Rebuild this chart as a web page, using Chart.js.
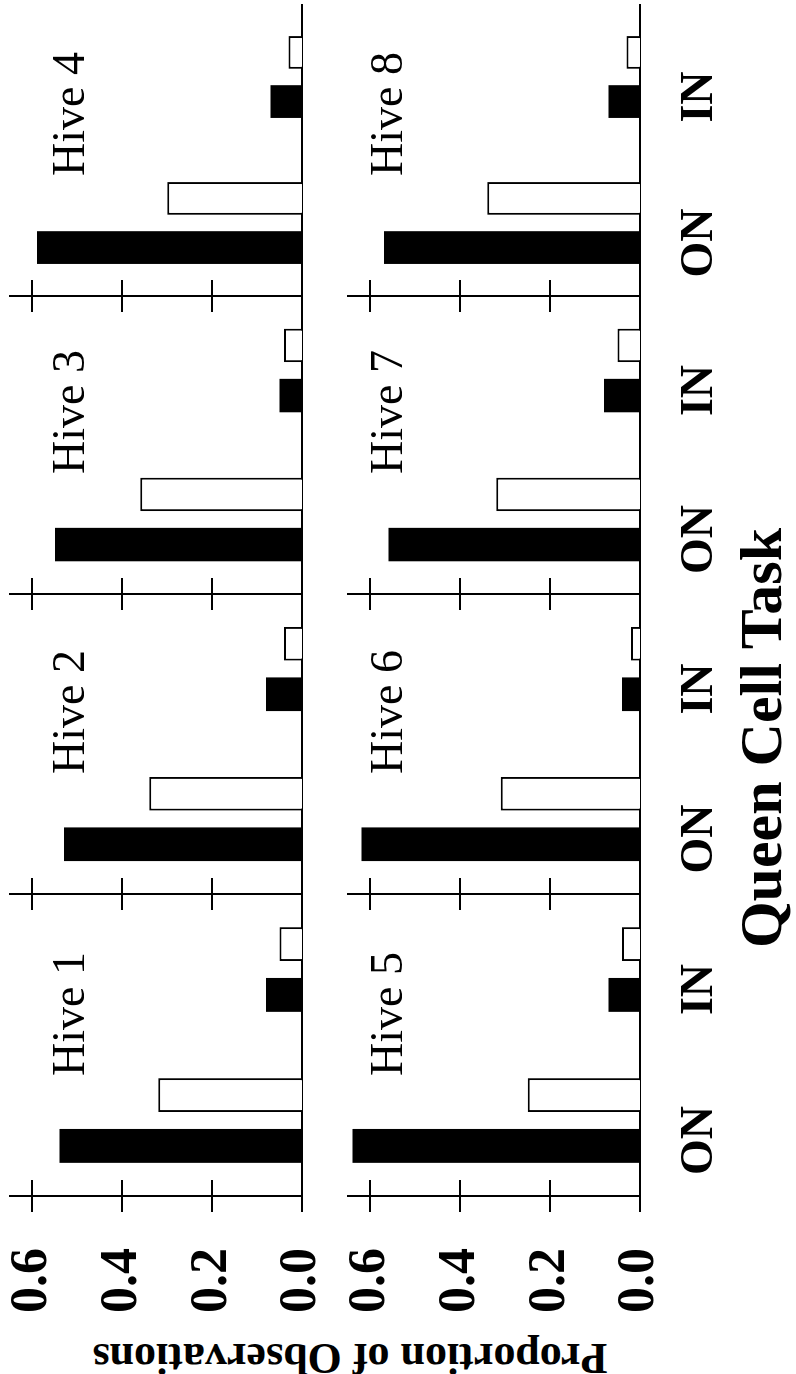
<!DOCTYPE html>
<html>
<head>
<meta charset="utf-8">
<script src="https://cdn.jsdelivr.net/npm/chart.js@4.4.1/dist/chart.umd.min.js"></script>
<style>
	html, body { margin: 0; padding: 0; background: #fff; overflow: hidden; }
	body { width: 796px; height: 1374px; position: relative; }
	/* the figure is laid out upright, then turned a quarter left like the scan */
	#fig { position: absolute; left: 0; top: 0; width: 1374px; height: 796px; transform-origin: 0 0; transform: translate(0, 1374px) rotate(-90deg); }
	#fig canvas { position: absolute; }
	.title { position: absolute; font-family: 'Liberation Serif', 'DejaVu Serif', serif; font-weight: bold; color: #000; white-space: nowrap; text-align: center; }
	#xtitle { left: 336px; top: 731px; width: 600px; font-size: 60px; line-height: 60px; }
	#ytitle { left: -284px; top: 328px; width: 600px; height: 44px; font-size: 44px; line-height: 44px; transform: rotate(-90deg); }
</style>
</head>
<body>
<div id="fig">
	<div id="xtitle" class="title">Queen Cell Task</div>
	<div id="ytitle" class="title">Proportion of Observations</div>
</div>
<script>
var HIVES = ['Hive 1', 'Hive 2', 'Hive 3', 'Hive 4', 'Hive 5', 'Hive 6', 'Hive 7', 'Hive 8'];
var TASKS = ['ON', 'IN'];
var Y_TICKS = [0, 0.2, 0.4, 0.6];

// proportion of observations per hive, [ON, IN]
var FILLED = [[0.54, 0.08], [0.53, 0.08], [0.55, 0.05], [0.59, 0.07], [0.64, 0.07], [0.62, 0.04], [0.56, 0.08], [0.57, 0.07]];
var OPEN = [[0.32, 0.05], [0.34, 0.04], [0.36, 0.04], [0.30, 0.03], [0.25, 0.04], [0.31, 0.02], [0.32, 0.05], [0.34, 0.03]];

(function () {
	'use strict';

	var FONT = "'Liberation Serif', 'DejaVu Serif', serif";
	var AXIS_X = [178, 480, 780, 1078];
	var PANEL_END = 1370;
	var LEFT_W = [178, 40, 40, 40];
	var ROW_TOP = [10, 348];
	var PLOT_H = 292;
	var PAD_TOP = 110;
	var XAXIS_H = [110, 156];
	var LABEL_Y = [0.485, 0.53];

	var panelMarks = {
		id: 'panelMarks',
		afterDraw: function (chart, args, opts) {
			var ctx = chart.ctx;
			var area = chart.chartArea;
			var y = chart.scales.y;
			ctx.save();
			ctx.strokeStyle = '#000';
			ctx.lineWidth = 2;
			ctx.beginPath();
			Y_TICKS.forEach(function (v) {
				var py = Math.round(y.getPixelForValue(v));
				ctx.moveTo(area.left - 16, py);
				ctx.lineTo(area.left + 16, py);
			});
			ctx.stroke();
			ctx.font = '46px ' + FONT;
			ctx.fillStyle = '#000';
			ctx.textAlign = 'left';
			ctx.textBaseline = 'alphabetic';
			ctx.fillText(opts.name, area.left + 120, y.getPixelForValue(opts.labelY));
			ctx.restore();
		}
	};

	function makePanel(i) {
		var row = i < 4 ? 0 : 1;
		var col = i % 4;
		var left = AXIS_X[col] - LEFT_W[col];
		var right = col < 3 ? AXIS_X[col + 1] : PANEL_END;
		var w = right - left;
		var h = PAD_TOP + PLOT_H + XAXIS_H[row];

		var canvas = document.createElement('canvas');
		canvas.width = w;
		canvas.height = h;
		canvas.style.width = w + 'px';
		canvas.style.height = h + 'px';
		canvas.style.left = left + 'px';
		canvas.style.top = (ROW_TOP[row] - PAD_TOP) + 'px';
		document.getElementById('fig').appendChild(canvas);

		return new Chart(canvas, {
			type: 'bar',
			data: {
				labels: TASKS,
				datasets: [
					{ data: FILLED[i], backgroundColor: '#000', borderColor: '#000', borderWidth: 0 },
					{ data: OPEN[i], backgroundColor: '#fff', borderColor: '#000', borderWidth: 2 }
				]
			},
			plugins: [panelMarks],
			options: {
				responsive: false,
				animation: false,
				devicePixelRatio: 1,
				layout: { padding: { top: PAD_TOP, left: 0, right: 0, bottom: 0 } },
				datasets: { bar: { barPercentage: 0.667, categoryPercentage: 0.673 } },
				plugins: {
					legend: { display: false },
					tooltip: { enabled: false },
					panelMarks: { name: HIVES[i], labelY: LABEL_Y[row] }
				},
				scales: {
					x: {
						z: 1,
						grid: { display: false, drawTicks: false },
						border: { display: true, color: '#000', width: 2 },
						ticks: {
							display: row === 1,
							color: '#000',
							font: { family: FONT, size: 46, weight: 'bold' },
							padding: 33,
							labelOffset: -20,
							maxRotation: 0
						},
						afterFit: function (s) { s.height = XAXIS_H[row]; }
					},
					y: {
						z: 1,
						min: 0,
						max: 0.65,
						afterBuildTicks: function (s) {
							s.ticks = Y_TICKS.map(function (v) { return { value: v }; });
						},
						grid: { display: false, drawTicks: false },
						border: { display: true, color: '#000', width: 2 },
						ticks: {
							display: col === 0,
							color: '#000',
							font: { family: FONT, size: 52, weight: 'bold' },
							padding: 52,
							callback: function (v) { return Number(v).toFixed(1); }
						},
						afterFit: function (s) { s.width = LEFT_W[col]; }
					}
				}
			}
		});
	}

	for (var i = 0; i < HIVES.length; i++) makePanel(i);
})();
</script>
</body>
</html>
